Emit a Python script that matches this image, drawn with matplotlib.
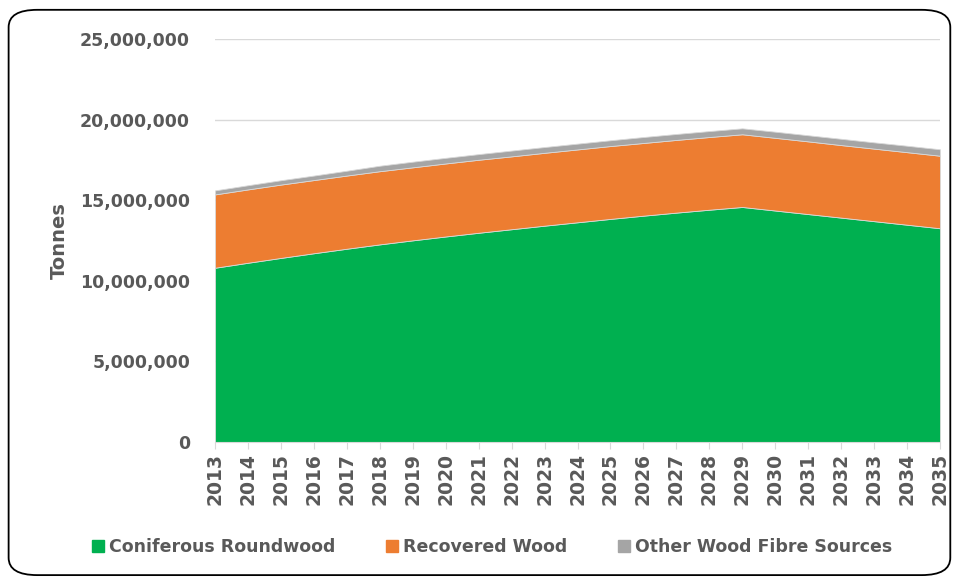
import matplotlib.pyplot as plt
from matplotlib.patches import FancyBboxPatch, Patch
from matplotlib.ticker import FuncFormatter

plt.rcParams['font.family'] = ['DejaVu Sans']

years = list(range(2013, 2036))
coniferous = [10.81, 11.12, 11.42, 11.71, 11.99, 12.26, 12.51, 12.75, 12.98, 13.20, 13.42, 13.63,
              13.84, 14.04, 14.23, 14.41, 14.58, 14.36, 14.14, 13.92, 13.70, 13.48, 13.26]
recovered = [4.55, 4.55, 4.55, 4.54, 4.54, 4.54, 4.53, 4.53, 4.53, 4.52, 4.52, 4.52,
             4.52, 4.51, 4.51, 4.51, 4.51, 4.51, 4.51, 4.50, 4.50, 4.50, 4.50]
other = [0.25, 0.26, 0.27, 0.28, 0.30, 0.34, 0.35, 0.35, 0.35, 0.36, 0.36, 0.36,
         0.36, 0.37, 0.37, 0.37, 0.37, 0.38, 0.38, 0.39, 0.39, 0.40, 0.40]
labels = ['Coniferous Roundwood', 'Recovered Wood', 'Other Wood Fibre Sources']
colors = ['#00B050', '#ED7D31', '#A5A5A5']

scale = 1e6
series = [[v * scale for v in s] for s in (coniferous, recovered, other)]

txt = '#595959'
fig = plt.figure(figsize=(9.57, 5.78), dpi=100)
ax = fig.add_axes([0.2247, 0.2353, 0.7575, 0.6972])

ax.stackplot(years, *series, colors=colors, linewidth=0.6, edgecolor='#d9d9d9')

ax.set_xlim(2013, 2035)
ax.set_ylim(0, 25e6)
ax.set_yticks(range(0, 25000001, 5000000))
ax.yaxis.set_major_formatter(FuncFormatter(lambda v, p: f'{int(v):,}'))
ax.set_xticks(years)
ax.set_xticklabels([str(y) for y in years], rotation=90, fontsize=13.5,
                   fontweight='bold', color=txt)
for lab in ax.get_yticklabels():
    lab.set_fontsize(12.5)
    lab.set_fontweight('bold')
    lab.set_color(txt)

ax.grid(axis='y', color='#d9d9d9', linewidth=1)
ax.set_axisbelow(True)
for s in ['top', 'right', 'left']:
    ax.spines[s].set_visible(False)
ax.spines['bottom'].set_color('#d9d9d9')
ax.tick_params(axis='y', length=0, pad=18)
ax.tick_params(axis='x', length=5, color='#d9d9d9', pad=3)

ax.set_ylabel('Tonnes', fontsize=14, fontweight='bold', color=txt)
ax.yaxis.set_label_coords(-0.202, 0.499)

handles = [Patch(color=c) for c in colors]
fig.legend(handles, labels, loc='center', bbox_to_anchor=(0.514, 0.054), ncol=3,
           frameon=False, handlelength=0.7, handleheight=0.7, handletextpad=0.3,
           columnspacing=2.9, prop={'size': 12.5, 'weight': 'bold'}, labelcolor=txt)

border = FancyBboxPatch((0.009, 0.005), 0.984, 0.978, boxstyle='round,pad=0,rounding_size=0.03',
                        transform=fig.transFigure, fill=False, edgecolor='black', linewidth=1.3)
fig.patches.append(border)

fig.savefig('out.png', dpi=100)
